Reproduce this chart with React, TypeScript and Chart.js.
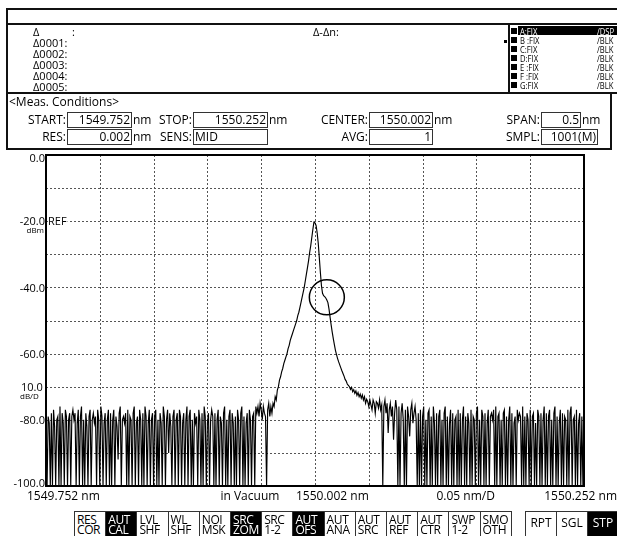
import React, { useEffect, useRef } from "react";
import { Chart, registerables } from "chart.js";

Chart.register(...registerables);

// ---------------- data ----------------
const START_NM = 1549.752;
const STOP_NM = 1550.252;
const SAMPLE_STEP_PM = 1;
const X_DIV_PM = 50;
const Y_DIV_DB = 10;

// samples 0..195  (1549.752 .. 1549.947 nm) noise floor with log-zero dips
const leftNoiseDbm = [
  -80, -100, -79, -81, -100, -78, -100, -77, -82, -100, -80, -79, -100, -76, -100, -78, -81, -100, -77, -79,
  -100, -80, -78, -100, -79, -77, -80, -78, -100, -81, -77, -100, -79, -76, -100, -80, -100, -78, -82, -100,
  -79, -77, -100, -80, -78, -81, -79, -100, -77, -80, -100, -76, -79, -100, -81, -78, -100, -80, -77, -100,
  -78, -100, -80, -77, -100, -79, -82, -92, -78, -76, -100, -80, -79, -81, -78, -100, -77, -100, -79, -80,
  -100, -78, -76, -100, -81, -79, -100, -77, -80, -100, -78, -100, -76, -79, -100, -81, -77, -100, -80, -78,
  -100, -79, -77, -100, -80, -100, -78, -81, -100, -76, -79, -100, -80, -77, -90, -78, -82, -100, -79, -77,
  -100, -80, -78, -100, -77, -79, -100, -81, -78, -100, -80, -76, -100, -79, -77, -100, -80, -100, -78, -81,
  -79, -100, -77, -80, -100, -78, -100, -76, -79, -100, -81, -78, -100, -80, -77, -79, -100, -78, -100, -80,
  -77, -100, -79, -81, -100, -78, -76, -100, -80, -100, -79, -77, -100, -78, -81, -100, -79, -100, -77, -80,
  -100, -78, -76, -100, -79, -100, -81, -78, -100, -77, -80, -100, -79, -78, -100, -76,
];

// samples 196..312 (1549.948 .. 1550.064 nm) signal peak
const peakDbm = [
  -78, -76, -79, -75, -77, -80, -76, -78, -79, -100,
  -77, -75, -79, -76, -78, -75, -76, -73, -74, -71,
  -70, -68, -67, -65.5, -64.5, -63, -62, -61, -60, -58.5,
  -57.5, -56, -55, -54, -53, -52, -51, -50, -48.5, -47.5,
  -46, -44.5, -43, -41.5, -40, -38, -36, -34, -32, -29.5,
  -27.5, -25, -22.5, -20.3, -20.5, -21.3, -23.5, -26.6, -31, -35.5,
  -39.5, -41.8, -42.5, -42.8, -43.2, -43.8, -44.6, -46.5, -49, -51.3,
  -53.5, -55.5, -57.3, -59, -60.3, -61.5, -62.5, -63.4, -64.3, -65.2,
  -66, -66.8, -67.8, -68.3, -69.2, -69.6, -70, -70.8, -70.2, -71.5,
  -70.9, -72, -71.3, -72.6, -71.8, -73, -72.2, -73.5, -72.5, -74,
  -73, -75, -73.8, -74.5, -76, -74, -75.5, -77, -74, -75,
  -78, -74.5, -75, -76.5, -74, -77, -75.5,
];

// samples 313..500 (1550.065 .. 1550.252 nm) noise floor
const rightNoiseDbm = [
  -100, -76, -74, -78, -75, -84, -77, -75, -79, -76, -86, -78, -74, -77, -100, -76, -100, -78, -75, -80,
  -100, -77, -100, -76, -79, -85, -77, -75, -81, -78, -76, -80,
  -100, -78, -100, -77, -100, -79, -76, -100, -80, -100, -78, -77, -100, -79, -100, -76, -81, -100, -78, -100,
  -79, -77, -100, -80, -100, -78, -76, -100, -79, -100, -81, -77, -100, -78, -100, -80, -79, -100, -77, -100,
  -78, -100, -80, -76, -100, -79, -100, -78, -81, -100, -77, -100, -79, -80, -100, -78, -76, -100, -80, -100,
  -77, -79, -100, -78, -100, -81, -77, -100, -79, -78, -80, -77, -100, -76, -100, -79, -78, -100, -80, -100,
  -78, -77, -100, -79, -100, -80, -76, -100, -78, -100, -81, -79, -100, -77, -80, -78, -79, -100, -76, -100,
  -79, -100, -78, -80, -100, -77, -100, -79, -78, -100, -81, -100, -77, -79, -100, -78, -100, -80, -76, -100,
  -78, -100, -79, -77, -100, -80, -100, -78, -76, -100, -79, -100, -81, -77, -100, -78, -100, -79, -80, -100,
  -77, -100, -78, -76, -100, -80, -79, -100, -77, -100, -81, -78, -100, -79, -100, -77,
];

const levelsDbm = [...leftNoiseDbm, ...peakDbm, ...rightNoiseDbm];

const yLabelValues = [0, -20, -40, -60, -70, -80, -100];
const yLabelTexts = ["0.0", "-20.0", "-40.0", "-60.0", "10.0", "-80.0", "-100.0"];
const xLabelTexts = ["1549.752 nm", "in Vacuum", "1550.002 nm", "0.05 nm/D", "1550.252 nm"];
const markCircleOffsetPm = 261;
const markCircleDbm = -43;

const markerRows = ["Δ", "Δ0001:", "Δ0002:", "Δ0003:", "Δ0004:", "Δ0005:"];
const traceNames = ["A:FIX", "B :FIX", "C:FIX", "D:FIX", "E :FIX", "F :FIX", "G:FIX"];
const traceModes = ["/DSP", "/BLK", "/BLK", "/BLK", "/BLK", "/BLK", "/BLK"];

const measRow1 = [
  { label: "START:", x: 67, w: 65, value: "1549.752", unit: "nm" },
  { label: "STOP:", x: 193, w: 75, value: "1550.252", unit: "nm" },
  { label: "CENTER:", x: 369, w: 64, value: "1550.002", unit: "nm" },
  { label: "SPAN:", x: 541, w: 40, value: "0.5", unit: "nm" },
];
const measRow2 = [
  { label: "RES:", x: 67, w: 65, value: "0.002", unit: "nm" },
  { label: "SENS:", x: 193, w: 75, value: "MID", unit: "", left: true },
  { label: "AVG:", x: 369, w: 64, value: "1", unit: "" },
  { label: "SMPL:", x: 541, w: 57, value: "1001(M)", unit: "" },
];

const softKeysTop = ["RES", "AUT", "LVL", "WL", "NOI", "SRC", "SRC", "AUT", "AUT", "AUT", "AUT", "AUT", "SWP", "SMO"];
const softKeysBottom = ["COR", "CAL", "SHF", "SHF", "MSK", "ZOM", "1-2", "OFS", "ANA", "SRC", "REF", "CTR", "1-2", "OTH"];
const softKeysActive = [false, true, false, false, false, true, false, true, false, false, false, false, false, false];
const sweepKeys = ["RPT", "SGL", "STP"];
const sweepActive = [false, false, true];

const FONT = '"Open Sans", "Noto Sans", "DejaVu Sans", sans-serif';

const gridPlugin = {
  id: "osaGrid",
  beforeDatasetsDraw(chart: any) {
    const { ctx, chartArea: a, scales } = chart;
    const xs = scales.x;
    const ys = scales.y;
    ctx.save();
    ctx.strokeStyle = "#555";
    ctx.lineWidth = 1;
    ctx.setLineDash([2, 2]);
    ctx.beginPath();
    for (let v = xs.min; v <= xs.max + 1e-6; v += X_DIV_PM) {
      const px = Math.round(xs.getPixelForValue(v)) + 0.5;
      ctx.moveTo(px, a.top);
      ctx.lineTo(px, a.bottom);
    }
    for (let v = ys.min; v <= ys.max + 1e-6; v += Y_DIV_DB) {
      const py = Math.round(ys.getPixelForValue(v)) + 0.5;
      ctx.moveTo(a.left, py);
      ctx.lineTo(a.right, py);
    }
    ctx.stroke();
    ctx.restore();
  },
};

const overlayPlugin = {
  id: "osaOverlay",
  afterDatasetsDraw(chart: any) {
    const { ctx, chartArea: a, scales } = chart;
    const xs = scales.x;
    const ys = scales.y;
    ctx.save();
    // plot frame
    ctx.strokeStyle = "#000";
    ctx.lineWidth = 2;
    ctx.strokeRect(a.left, a.top, a.right - a.left, a.bottom - a.top);
    // marker circle
    ctx.lineWidth = 1.5;
    ctx.beginPath();
    ctx.arc(xs.getPixelForValue(markCircleOffsetPm), ys.getPixelForValue(markCircleDbm), 17.5, 0, Math.PI * 2);
    ctx.stroke();

    // y labels
    ctx.fillStyle = "#000";
    ctx.textBaseline = "middle";
    ctx.font = `11px ${FONT}`;
    yLabelValues.forEach((v, i) => {
      const py = ys.getPixelForValue(v);
      const cy = Math.min(Math.max(py + 1, a.top + 4), a.bottom - 2);
      if (v === -70) {
        ctx.textAlign = "left";
        ctx.fillText(yLabelTexts[i], a.left - 25, cy);
      } else {
        ctx.textAlign = "right";
        ctx.fillText(yLabelTexts[i], a.left - 1, cy);
      }
    });
    const refY = ys.getPixelForValue(-20);
    ctx.textAlign = "left";
    const refW = ctx.measureText("REF").width;
    ctx.fillStyle = "#fff";
    ctx.fillRect(a.left + 2, refY - 5, refW + 1, 10);
    ctx.fillStyle = "#000";
    ctx.fillText("REF", a.left + 2, refY + 1);
    ctx.font = `8px ${FONT}`;
    ctx.textAlign = "right";
    ctx.fillText("dBm", a.left - 2, refY + 10);
    ctx.textAlign = "left";
    ctx.fillText("dB/D", a.left - 26, ys.getPixelForValue(-70) + 10);

    // x labels
    ctx.font = `12px ${FONT}`;
    const ly = a.bottom + 11;
    const w = a.right - a.left;
    ctx.textAlign = "left";
    ctx.fillText(xLabelTexts[0], a.left - 19, ly);
    ctx.textAlign = "center";
    ctx.fillText(xLabelTexts[1], a.left + w * 0.379, ly);
    ctx.textAlign = "left";
    ctx.fillText(xLabelTexts[2], xs.getPixelForValue(250) - 19, ly);
    ctx.textAlign = "center";
    ctx.fillText(xLabelTexts[3], a.left + w * 0.78, ly);
    ctx.textAlign = "right";
    ctx.fillText(xLabelTexts[4], chart.width, ly);
    ctx.restore();
  },
};

function Txt(props: { x: number; cy: number; text: string; size?: number; align?: "left" | "right"; color?: string; style?: any }) {
  const { x, cy, text, size = 12, align = "left", color = "#000", style = {} } = props;
  const s: any = {
    position: "absolute",
    top: cy,
    transform: "translateY(-50%)",
    fontSize: size,
    lineHeight: 1,
    whiteSpace: "nowrap",
    color,
    ...style,
  };
  if (align === "right") s.right = 617 - x;
  else s.left = x;
  return <div style={s}>{text}</div>;
}

export default function App() {
  const canvasRef = useRef<HTMLCanvasElement>(null);

  useEffect(() => {
    document.body.style.margin = "0";
    const spanPm = Math.round((STOP_NM - START_NM) * 1000);
    const points = levelsDbm.map((v, i) => ({ x: i * SAMPLE_STEP_PM, y: v }));
    const chart = new Chart(canvasRef.current!, {
      type: "line",
      data: {
        datasets: [
          {
            data: points,
            borderColor: "#000",
            borderWidth: 1.15,
            pointRadius: 0,
            tension: 0,
            fill: false,
          },
        ],
      },
      options: {
        responsive: false,
        animation: false,
        devicePixelRatio: 1,
        events: [],
        layout: { padding: { left: 46, top: 155, right: 33, bottom: 50 } },
        plugins: { legend: { display: false }, tooltip: { enabled: false } },
        scales: {
          x: {
            type: "linear",
            min: 0,
            max: spanPm,
            ticks: { display: false, stepSize: X_DIV_PM },
            grid: { display: false, drawTicks: false },
            border: { display: false },
          },
          y: {
            type: "linear",
            min: -100,
            max: 0,
            ticks: { display: false, stepSize: Y_DIV_DB },
            grid: { display: false, drawTicks: false },
            border: { display: false },
          },
        },
      } as any,
      plugins: [gridPlugin, overlayPlugin],
    });
    return () => chart.destroy();
  }, []);

  const keyW = 31.2;
  const keyTop = 511;
  const keyH = 27;

  return (
    <div style={{ position: "relative", width: 617, height: 536, overflow: "hidden", background: "#fff", fontFamily: FONT, color: "#000" }}>
      <canvas ref={canvasRef} width={617} height={536} style={{ position: "absolute", left: 0, top: 0, width: 617, height: 536 }} />

      {/* title + marker frame */}
      <div style={{ position: "absolute", left: 6, top: 8, width: 700, height: 86, border: "2px solid #111", boxSizing: "border-box" }} />
      <div style={{ position: "absolute", left: 6, top: 23, width: 700, height: 2, background: "#111" }} />
      <div style={{ position: "absolute", left: 508, top: 24, width: 2, height: 69, background: "#111" }} />

      {markerRows.map((t, i) => (
        <Txt key={"m" + i} x={33} cy={30.5 + i * 11} text={t} size={11} />
      ))}
      <Txt x={72} cy={30.5} text=":" size={11} />
      <Txt x={313} cy={30.5} text="Δ-Δn:" size={11} />
      <div style={{ position: "absolute", left: 504, top: 40, width: 3, height: 3, background: "#000" }} />

      {/* trace list */}
      <div style={{ position: "absolute", left: 518, top: 26, width: 110, height: 9, background: "#000" }} />
      {traceNames.map((t, i) => {
        const cy = 30.5 + i * 9;
        const col = i === 0 ? "#fff" : "#000";
        const st = { transform: "translateY(-50%) scaleX(0.85)", transformOrigin: "left center" };
        return (
          <React.Fragment key={"t" + i}>
            <div style={{ position: "absolute", left: 511, top: cy - 3, width: 6, height: 6, background: "#000" }} />
            <Txt x={520} cy={cy} text={t} size={9} color={col} style={st} />
            <Txt x={597} cy={cy} text={traceModes[i]} size={9} color={col} style={st} />
          </React.Fragment>
        );
      })}

      {/* measurement conditions */}
      <div style={{ position: "absolute", left: 6, top: 92, width: 606, height: 58, border: "2px solid #111", boxSizing: "border-box" }} />
      <Txt x={9} cy={102} text="<Meas. Conditions>" />
      {[measRow1, measRow2].map((row, r) =>
        row.map((f: any, i) => {
          const cy = r === 0 ? 119.5 : 137;
          return (
            <React.Fragment key={"f" + r + i}>
              <Txt x={f.x - 1} cy={cy} text={f.label} align="right" />
              <div
                style={{
                  position: "absolute",
                  left: f.x,
                  top: cy - 8,
                  width: f.w,
                  height: 16,
                  border: "1px solid #333",
                  boxSizing: "border-box",
                }}
              />
              {f.left ? (
                <Txt x={f.x + 2} cy={cy} text={f.value} />
              ) : (
                <Txt x={f.x + f.w - 2} cy={cy} text={f.value} align="right" />
              )}
              {f.unit ? <Txt x={f.x + f.w + 1} cy={cy} text={f.unit} /> : null}
            </React.Fragment>
          );
        })
      )}

      {/* soft keys */}
      {softKeysTop.map((t, i) => {
        const left = 74 + i * keyW;
        const on = softKeysActive[i];
        return (
          <div
            key={"k" + i}
            style={{
              position: "absolute",
              left,
              top: keyTop,
              width: keyW + 1,
              height: keyH,
              border: "1px solid #333",
              boxSizing: "border-box",
              background: on ? "#000" : "#fff",
              color: on ? "#fff" : "#000",
              fontSize: 12,
              lineHeight: "10px",
              paddingLeft: 2,
              paddingTop: 3,
              letterSpacing: -0.4,
            }}
          >
            <div>{t}</div>
            <div>{softKeysBottom[i]}</div>
          </div>
        );
      })}
      {sweepKeys.map((t, i) => {
        const on = sweepActive[i];
        return (
          <div
            key={"s" + i}
            style={{
              position: "absolute",
              left: 525 + i * 31,
              top: keyTop,
              width: 32,
              height: keyH,
              border: "1px solid #333",
              boxSizing: "border-box",
              background: on ? "#000" : "#fff",
              color: on ? "#fff" : "#000",
              fontSize: 12,
              lineHeight: "22px",
              textAlign: "center",
            }}
          >
            {t}
          </div>
        );
      })}
    </div>
  );
}
